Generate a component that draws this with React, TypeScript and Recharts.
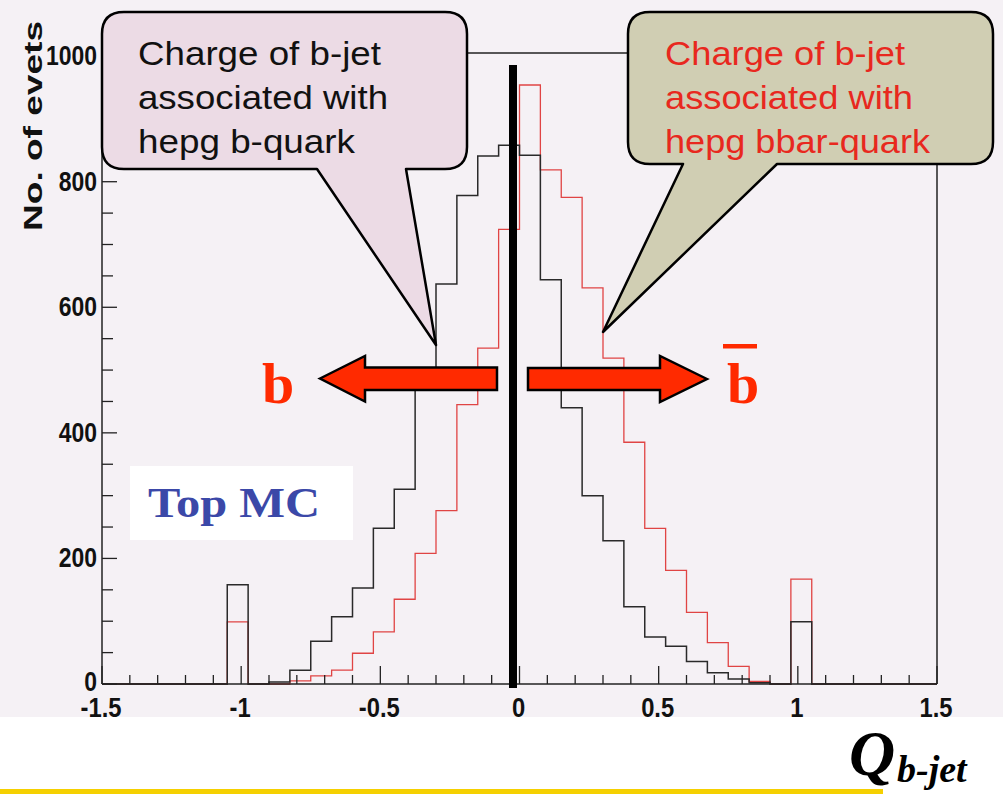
import React from 'react';
import { ComposedChart, Line, XAxis, YAxis } from 'recharts';

// Histogram binning (40 bins of 0.075 from -1.5 to 1.5)
const BIN_START = -1.5;
const BIN_WIDTH = 0.075;

// Black: b-jet charge associated with hepg b-quark
const blackCounts = [
  0, 0, 0, 0, 0, 0, 158, 0, 3, 22, 68, 107, 153, 248, 310, 468, 637, 778, 841, 858,
  842, 644, 440, 300, 228, 123, 75, 60, 36, 18, 8, 2, 0, 99, 0, 0, 0, 0, 0, 0,
];
// Red: b-jet charge associated with hepg bbar-quark
const redCounts = [
  0, 0, 0, 0, 0, 0, 99, 0, 0, 5, 13, 22, 49, 83, 135, 208, 276, 445, 535, 724,
  954, 819, 775, 631, 519, 385, 248, 181, 114, 66, 28, 4, 0, 167, 0, 0, 0, 0, 0, 0,
];

const xTicks = [
  -1.5, -1.4, -1.3, -1.2, -1.1, -1, -0.9, -0.8, -0.7, -0.6, -0.5, -0.4, -0.3, -0.2, -0.1, 0,
  0.1, 0.2, 0.3, 0.4, 0.5, 0.6, 0.7, 0.8, 0.9, 1, 1.1, 1.2, 1.3, 1.4, 1.5,
];
const xLabels = ['-1.5', '-1', '-0.5', '0', '0.5', '1', '1.5'];
const yTicks = [
  0, 50, 100, 150, 200, 250, 300, 350, 400, 450, 500, 550, 600, 650, 700, 750, 800, 850, 900, 950, 1000,
];
const yLabels = ['0', '200', '400', '600', '800', '1000'];

const leftCallout = ['Charge of b-jet', 'associated with', 'hepg b-quark'];
const rightCallout = ['Charge of b-jet', 'associated with', 'hepg bbar-quark'];

const data = Array.from({ length: blackCounts.length + 1 }, (_, i) => ({
  x: Math.round((BIN_START + i * BIN_WIDTH) * 10000) / 10000,
  black: i < blackCounts.length ? blackCounts[i] : 0,
  red: i < redCounts.length ? redCounts[i] : 0,
}));

const SANS = '"Liberation Sans", Arial, Helvetica, sans-serif';
const SERIF = '"Liberation Serif", "Times New Roman", serif';
const AXIS_Y = 684;
const AXIS_X = 102;

const XTick = (props: any) => {
  const { x, payload } = props;
  const v = payload.value as number;
  const label = xLabels.find((l) => Math.abs(parseFloat(l) - v) < 1e-6);
  const major = label !== undefined;
  return (
    <g>
      <line x1={x} x2={x} y1={AXIS_Y} y2={AXIS_Y - (major ? 18 : 9)} stroke="#222" strokeWidth={1.3} />
      {major && (
        <text
          transform={`translate(${x - 1}, ${AXIS_Y + 33}) scale(0.85, 1)`}
          textAnchor="middle"
          fontFamily={SANS}
          fontWeight="bold"
          fontSize={28}
          fill="#111"
        >
          {label}
        </text>
      )}
    </g>
  );
};

const YTick = (props: any) => {
  const { y, payload } = props;
  const v = payload.value as number;
  const label = yLabels.find((l) => parseFloat(l) === v);
  const major = label !== undefined;
  return (
    <g>
      <line x1={AXIS_X} x2={AXIS_X + (major ? 15 : 11)} y1={y} y2={y} stroke="#222" strokeWidth={1.3} />
      {major && (
        <text
          transform={`translate(${AXIS_X - 5}, ${y + (v === 0 ? 7 : 9)}) scale(0.85, 1)`}
          textAnchor="end"
          fontFamily={SANS}
          fontWeight="bold"
          fontSize={27}
          fill="#111"
        >
          {label}
        </text>
      )}
    </g>
  );
};

export default function App() {
  return (
    <div style={{ position: 'absolute', left: 0, top: 0, width: 1003, height: 794, background: '#ffffff', overflow: 'hidden' }}>
      <div style={{ position: 'absolute', left: 0, top: 0, width: 1003, height: 717, background: '#f5f1f5' }} />
      <div style={{ position: 'absolute', left: 0, top: 0 }}>
        <ComposedChart width={1003} height={794} data={data} margin={{ top: 52, right: 65, bottom: 109, left: 101 }}>
          <XAxis
            dataKey="x"
            type="number"
            domain={[-1.5, 1.5]}
            ticks={xTicks}
            interval={0}
            height={1}
            tickSize={0}
            tickMargin={0}
            tickLine={false}
            tick={<XTick />}
            axisLine={{ stroke: '#222', strokeWidth: 1.5 }}
          />
          <XAxis
            xAxisId="top"
            orientation="top"
            dataKey="x"
            type="number"
            domain={[-1.5, 1.5]}
            height={1}
            tick={false}
            tickLine={false}
            axisLine={{ stroke: '#222', strokeWidth: 1.5 }}
          />
          <YAxis
            type="number"
            domain={[0, 1005]}
            ticks={yTicks}
            interval={0}
            width={1}
            tickSize={0}
            tickMargin={0}
            tickLine={false}
            tick={<YTick />}
            axisLine={{ stroke: '#222', strokeWidth: 1.5 }}
          />
          <YAxis
            yAxisId="right"
            orientation="right"
            type="number"
            domain={[0, 1005]}
            width={1}
            tick={false}
            tickLine={false}
            axisLine={{ stroke: '#222', strokeWidth: 1.5 }}
          />
          <Line dataKey="red" type="stepAfter" stroke="#e04444" strokeWidth={1.3} dot={false} isAnimationActive={false} />
          <Line dataKey="black" type="stepAfter" stroke="#2a2a2a" strokeWidth={1.5} dot={false} isAnimationActive={false} />
        </ComposedChart>
      </div>
      <svg width={1003} height={794} style={{ position: 'absolute', left: 0, top: 0, pointerEvents: 'none' }}>
        {/* y-axis title */}
        <text
          x={42}
          y={126}
          transform="rotate(-90 42 126)"
          textAnchor="middle"
          fontFamily={SANS}
          fontWeight="bold"
          fontSize={26}
          fill="#111"
          textLength={210}
          lengthAdjust="spacingAndGlyphs"
        >
          No. of evets
        </text>

        {/* thick vertical line */}
        <rect x={509} y={65} width={8} height={623} fill="#000" />

        {/* left callout */}
        <path
          d="M 124 12 H 445 Q 467 12 467 34 V 147 Q 467 169 445 169 H 406 L 436 345 L 317 169 H 124 Q 102 169 102 147 V 34 Q 102 12 124 12 Z"
          fill="#ecdbe5"
          stroke="#000"
          strokeWidth={2.5}
          strokeLinejoin="round"
        />
        {leftCallout.map((t, i) => (
          <text
            key={'l' + i}
            x={138}
            y={65 + i * 44}
            fontFamily={SANS}
            fontSize={33}
            fill="#111"
            textLength={[243, 250, 217][i]}
            lengthAdjust="spacingAndGlyphs"
          >
            {t}
          </text>
        ))}

        {/* right callout */}
        <path
          d="M 650 12 H 971 Q 993 12 993 34 V 142 Q 993 164 971 164 H 777 L 603 332 L 683 164 H 650 Q 628 164 628 142 V 34 Q 628 12 650 12 Z"
          fill="#d0ceb3"
          stroke="#000"
          strokeWidth={2.5}
          strokeLinejoin="round"
        />
        {rightCallout.map((t, i) => (
          <text
            key={'r' + i}
            x={665}
            y={65 + i * 44}
            fontFamily={SANS}
            fontSize={33}
            fill="#e8281e"
            textLength={[240, 248, 265][i]}
            lengthAdjust="spacingAndGlyphs"
          >
            {t}
          </text>
        ))}

        {/* arrows */}
        <polygon
          points="320,378.5 365,356 365,367.5 497,367.5 497,390 365,390 365,401.5"
          fill="#ff2a00"
          stroke="#000"
          strokeWidth={2.5}
          strokeLinejoin="miter"
        />
        <polygon
          points="707,379 660,356 660,368 528,368 528,390 660,390 660,402"
          fill="#ff2a00"
          stroke="#000"
          strokeWidth={2.5}
          strokeLinejoin="miter"
        />

        {/* b and b-bar */}
        <text x={262} y={403} fontFamily={SERIF} fontWeight="bold" fontSize={58} fill="#ff2a00">
          b
        </text>
        <text x={727} y={403} fontFamily={SERIF} fontWeight="bold" fontSize={58} fill="#ff2a00">
          b
        </text>
        <rect x={723} y={344} width={34} height={4.5} fill="#ff2a00" />

        {/* Top MC label */}
        <rect x={130} y={466} width={223} height={74} fill="#ffffff" />
        <text
          x={148}
          y={517}
          fontFamily={SERIF}
          fontWeight="bold"
          fontSize={43}
          fill="#3b48a8"
          textLength={172}
          lengthAdjust="spacingAndGlyphs"
        >
          Top MC
        </text>

        {/* Q_b-jet */}
        <text x={849} y={775} fontFamily={SERIF} fontWeight="bold" fontStyle="italic" fontSize={64} fill="#000">
          Q
        </text>
        <text x={897} y={782} fontFamily={SERIF} fontWeight="bold" fontStyle="italic" fontSize={38} fill="#000">
          b-jet
        </text>

        {/* yellow rule */}
        <rect x={0} y={789} width={883} height={5} fill="#f5d000" />
      </svg>
    </div>
  );
}
